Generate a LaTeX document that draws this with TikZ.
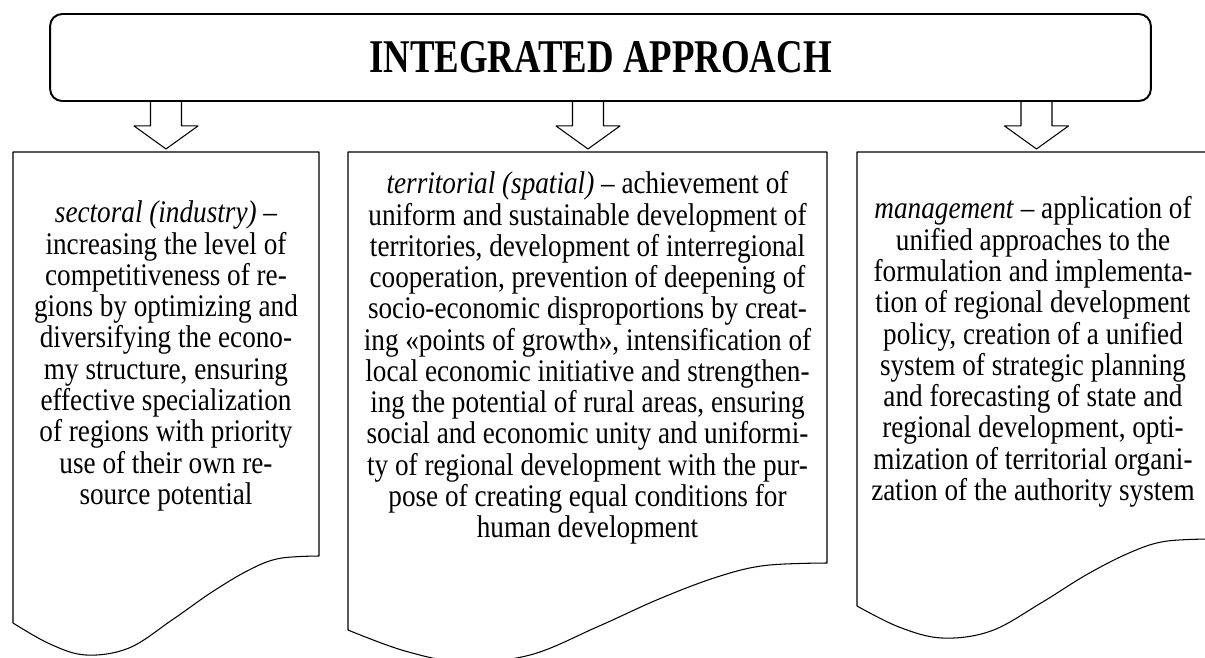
\documentclass[tikz,border=0pt]{standalone}
\usepackage{fontspec}
\setmainfont{Liberation Serif}[FakeStretch=0.865]
\newfontfamily\titlefont{Liberation Serif}[FakeStretch=0.785]
\begin{document}
\begin{tikzpicture}[line cap=round,line join=round,x=0.02cm,y=-0.02cm,
	titlebox/.style={draw,line width=1.1pt,rounded corners=0.24cm,minimum width=22.02cm,minimum height=1.74cm,inner sep=0pt,font=\titlefont\bfseries\fontsize{26.7}{30}\selectfont},
	docbox/.style={draw,line width=0.6pt},
	doctext/.style={align=center,inner sep=0pt,font=\fontsize{17.9}{17.8}\selectfont}]
	\useasboundingbox (0,0) rectangle (1205,657);
	\clip (0,0) rectangle (1205,657);
	\node[titlebox] (approach) at (600.5,57.5) {INTEGRATED APPROACH};
	\draw[docbox] (13,623) -- (13,152) -- (319,152) -- (319,556) -- plot[smooth,tension=.6] coordinates {(319,556) (279,558.5) (249,570) (212,592) (172,620) (129,648) (86,655) (50,644) (13,623)};
	\draw[docbox] (348,630) -- (348,152) -- (827,152) -- (827,563) -- plot[smooth,tension=.6] coordinates {(827,563) (765,565.5) (717,577) (659,599) (597,627) (530,655) (463,662) (405,651) (348,630)};
	\draw[docbox] (857,606) -- (857,152) -- (1210,152) -- (1210,539) -- plot[smooth,tension=.6] coordinates {(1210,539) (1164,541.5) (1129,553) (1086,575) (1041,603) (991,631) (942,638) (899,627) (857,606)};
	\coordinate (in1) at (166,152);
	\coordinate (in2) at (588,152);
	\coordinate (in3) at (1036.5,152);
	\foreach \c in {in1,in2,in3}
		\draw[docbox] (approach.south -| \c) +(-15.5,0) -- +(-15.5,24) -- +(-32,24) -- +(0,47) -- +(32,24) -- +(15.5,24) -- +(15.5,0);
	\node[doctext] (sectoral) at (166,356) {\textit{sectoral (industry)} --\\
		increasing the level of\\
		competitiveness of re-\\
		gions by optimizing and\\
		diversifying the econo-\\
		my structure, ensuring\\
		effective specialization\\
		of regions with priority\\
		use of their own re-\\
		source potential};
	\node[doctext] (territorial) at (587.5,358) {\textit{territorial (spatial)} -- achievement of\\
		uniform and sustainable development of\\
		territories, development of interregional\\
		cooperation, prevention of deepening of\\
		socio-economic disproportions by creat-\\
		ing «points of growth», intensification of\\
		local economic initiative and strengthen-\\
		ing the potential of rural areas, ensuring\\
		social and economic unity and uniformi-\\
		ty of regional development with the pur-\\
		pose of creating equal conditions for\\
		human development};
	\node[doctext] (management) at (1033,352) {\textit{management} -- application of\\
		unified approaches to the\\
		formulation and implementa-\\
		tion of regional development\\
		policy, creation of a unified\\
		system of strategic planning\\
		and forecasting of state and\\
		regional development, opti-\\
		mization of territorial organi-\\
		zation of the authority system};
\end{tikzpicture}
\end{document}
